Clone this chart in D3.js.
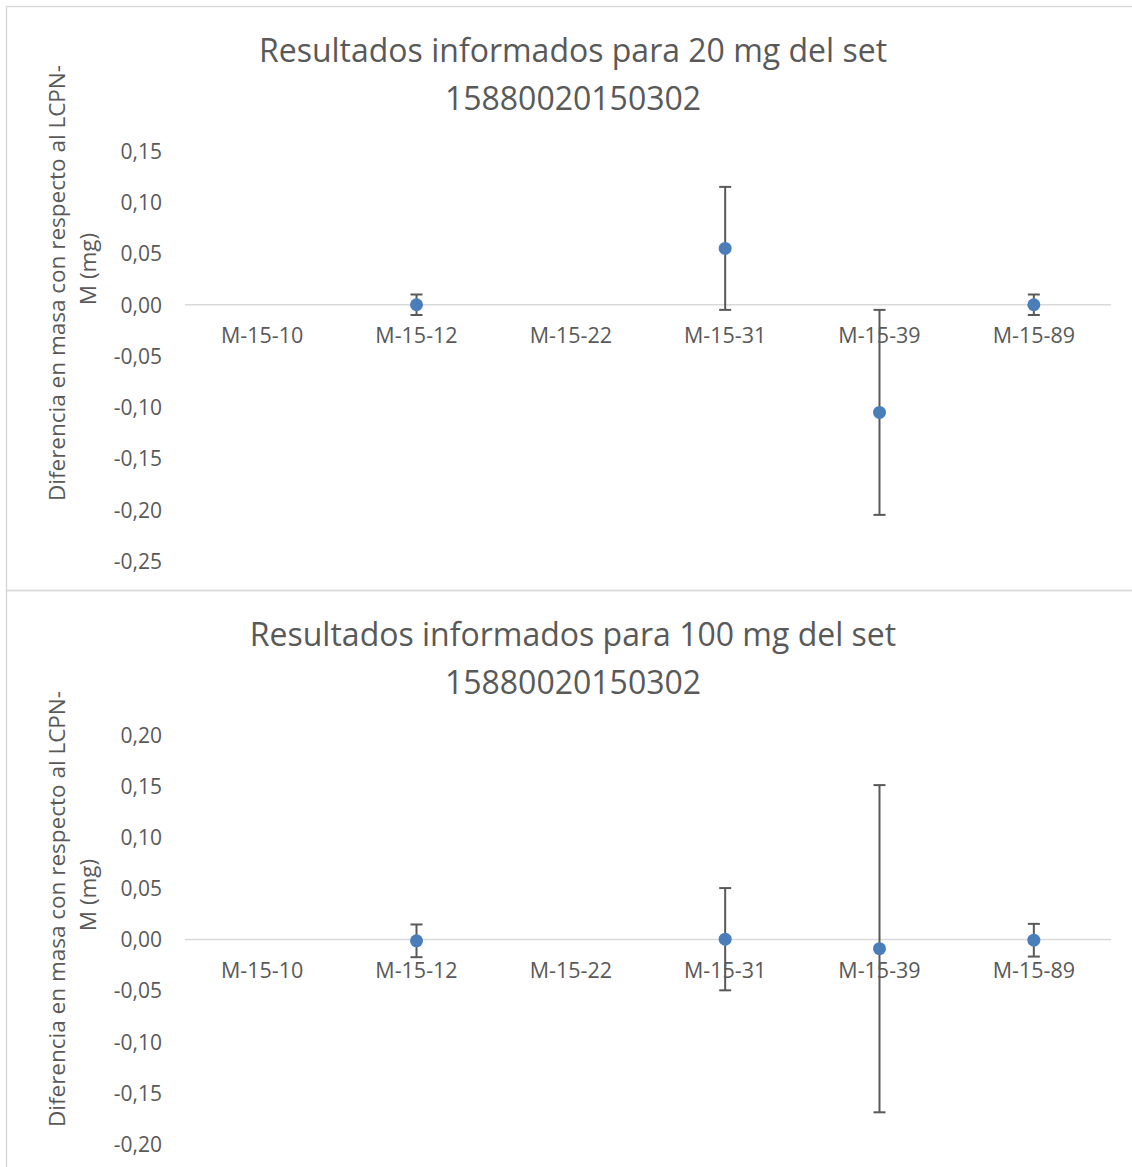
<!DOCTYPE html>
<html>
<head>
<meta charset="utf-8">
<script src="https://cdn.jsdelivr.net/npm/d3@7"></script>
<style>
  body { margin: 0; background: #fff; }
  svg text { font-family: "Open Sans", sans-serif; fill: #595959; }
</style>
</head>
<body>
<div id="chartArea"></div>
<script>
// data
var categories = ["M-15-10", "M-15-12", "M-15-22", "M-15-31", "M-15-39", "M-15-89"];

var values20 = [null, 0, null, 0.055, -0.105, 0];
var errors20 = [null, 0.01, null, 0.06, 0.1, 0.01];
var ticks20 = [0.15, 0.10, 0.05, 0.00, -0.05, -0.10, -0.15, -0.20, -0.25];

var values100 = [null, -0.0013, null, 0.0003, -0.009, -0.0007];
var errors100 = [null, 0.016, null, 0.05, 0.16, 0.016];
var ticks100 = [0.20, 0.15, 0.10, 0.05, 0.00, -0.05, -0.10, -0.15, -0.20];

var titles20 = ["Resultados informados para 20 mg del set", "15880020150302"];
var titles100 = ["Resultados informados para 100 mg del set", "15880020150302"];
var yTitle = ["Diferencia en masa con respecto al LCPN-", "M (mg)"];

var W = 1132, H = 1167;

var svg = d3.select("#chartArea").append("svg")
  .attr("width", W)
  .attr("height", H);

function drawChart(top, bottom, titles, values, errors, ticks, plotTop, plotBottom, yTitleCenter) {
  var g = svg.append("g");

  // frame of the chart
  g.append("rect")
    .attr("x", 6.5)
    .attr("y", top + 0.5)
    .attr("width", W + 20)
    .attr("height", bottom - top)
    .attr("fill", "none")
    .attr("stroke", "#d9d9d9")
    .attr("stroke-width", 1.5);

  // titles
  g.selectAll(".title").data(titles).enter()
    .append("text")
    .attr("class", "title")
    .attr("x", 573)
    .attr("y", function(d, i) { return top + 56 + i * 48; })
    .attr("text-anchor", "middle")
    .style("font-size", "32px")
    .text(function(d) { return d; });

  //### X scale ###
  var x = d3.scaleBand().domain(categories).range([185, 1111]);

  //### Y scale ###
  var y = d3.scaleLinear()
    .domain([d3.min(ticks), d3.max(ticks)])
    .range([plotBottom, plotTop]);

  var yAxis = d3.axisLeft(y).tickValues(ticks).tickSize(0).tickPadding(0)
    .tickFormat(function(d) { return d3.format(".2f")(d).replace(".", ",").replace("−", "-"); });

  var ya = g.append("g")
    .attr("class", "y axis")
    .attr("transform", "translate(162,0)")
    .call(yAxis);
  ya.select(".domain").remove();
  ya.selectAll("text")
    .style("font-size", "21px")
    .attr("dy", "0.35em");

  // zero line
  g.append("line")
    .attr("x1", 185)
    .attr("x2", 1111)
    .attr("y1", y(0))
    .attr("y2", y(0))
    .attr("stroke", "#d9d9d9")
    .attr("stroke-width", 1.5);

  // category labels
  g.selectAll(".cat").data(categories).enter()
    .append("text")
    .attr("class", "cat")
    .attr("x", function(d) { return x(d) + x.bandwidth() / 2; })
    .attr("y", y(0) + 38)
    .attr("text-anchor", "middle")
    .style("font-size", "21.5px")
    .text(function(d) { return d; });

  // axis title
  g.selectAll(".ytitle").data(yTitle).enter()
    .append("text")
    .attr("class", "ytitle")
    .attr("text-anchor", "middle")
    .attr("transform", function(d, i) {
      return "translate(" + (65 + i * 31) + "," + (yTitleCenter - i * 14) + ") rotate(-90)";
    })
    .style("font-size", "22.5px")
    .text(function(d) { return d; });

  // points with error bars
  var pts = categories.map(function(c, i) {
    return { cat: c, v: values[i], e: errors[i] };
  }).filter(function(d) { return d.v !== null; });

  var eb = g.selectAll(".err").data(pts).enter().append("g").attr("class", "err");
  eb.append("line")
    .attr("x1", function(d) { return x(d.cat) + x.bandwidth() / 2; })
    .attr("x2", function(d) { return x(d.cat) + x.bandwidth() / 2; })
    .attr("y1", function(d) { return y(d.v + d.e); })
    .attr("y2", function(d) { return y(d.v - d.e); });
  [1, -1].forEach(function(s) {
    eb.append("line")
      .attr("x1", function(d) { return x(d.cat) + x.bandwidth() / 2 - 6; })
      .attr("x2", function(d) { return x(d.cat) + x.bandwidth() / 2 + 6; })
      .attr("y1", function(d) { return y(d.v + s * d.e); })
      .attr("y2", function(d) { return y(d.v + s * d.e); });
  });
  eb.selectAll("line")
    .attr("stroke", "#595959")
    .attr("stroke-width", 2);

  g.selectAll(".circl").data(pts).enter()
    .append("circle")
    .attr("class", "circl")
    .attr("cx", function(d) { return x(d.cat) + x.bandwidth() / 2; })
    .attr("cy", function(d) { return y(d.v); })
    .attr("r", 6.5)
    .attr("fill", "#4a7ebb");
}

drawChart(6, 590, titles20, values20, errors20, ticks20, 151, 561, 283);
drawChart(590, 1200, titles100, values100, errors100, ticks100, 735, 1144, 909);
</script>
</body>
</html>
